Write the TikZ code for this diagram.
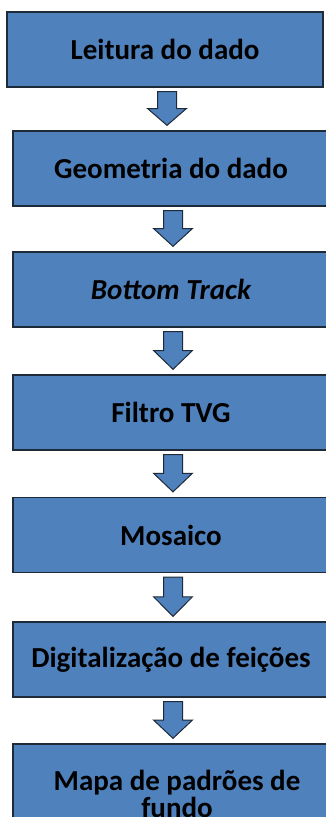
\documentclass[tikz,border=0pt]{standalone}
\usepackage{fontspec}
\setmainfont{Carlito}
\usetikzlibrary{calc}
\definecolor{boxfill}{HTML}{4F81BD}
\definecolor{boxline}{HTML}{1F2A38}
% block arrow between two stages: #1 = x of the arrow axis, #2 = upper node, #3 = lower node
\newcommand\flowstep[3]{%
  \coordinate (fs-a) at ($(#1,0 |- #2.south)+(0,4)$);
  \coordinate (fs-b) at ($(#1,0 |- #3.north)+(0,-5)$);
  \coordinate (fs-m) at ($(fs-a)!0.5!(fs-b)$);
  \draw[flow] ($(fs-a)+(-9.5,0)$) -- ($(fs-a)+(9.5,0)$) -- ($(fs-m)+(9.5,0)$)
    -- ($(fs-m)+(19.5,0)$) -- (fs-b) -- ($(fs-m)+(-19.5,0)$)
    -- ($(fs-m)+(-9.5,0)$) -- cycle;}
\begin{document}
\begin{tikzpicture}[x=1pt,y=-1pt,
  stage/.style={draw=boxline, fill=boxfill, line width=1.3pt, minimum width=316pt,
    minimum height=75pt, inner sep=0pt, text=black,
    font=\fontsize{29}{26}\selectfont\bfseries},
  stagetext/.style={inner sep=0pt, text=black, align=center,
    font=\fontsize{29}{27.5}\selectfont\bfseries},
  flow/.style={draw=boxline, fill=boxfill, line width=1pt, line join=miter}]
\useasboundingbox (0,0) rectangle (326,817);
\clip (0,0) rectangle (326,817);

\node[stage] (b1) at (165,49.5) {Leitura do dado};
\node[stage] (b2) at (171,168.5) {Geometria do dado};
\node[stage] (b3) at (171,289.5) {\itshape Bottom Track};
\node[stage] (b4) at (171,412.5) {Filtro TVG};
\node[stage] (b5) at (171,535) {Mosaico};
\node[stage] (b6) at (171,659.5) {Digitaliza\c{c}\~ao de fei\c{c}\~oes};
\node[stage, minimum width=330pt, minimum height=112pt] (b7) at (178,800) {};
\node[stagetext] (t7) at (177,794) {Mapa de padr\~oes de\\fundo};

\flowstep{167}{b1}{b2}
\flowstep{173}{b2}{b3}
\flowstep{173}{b3}{b4}
\flowstep{173}{b4}{b5}
\flowstep{173}{b5}{b6}
\flowstep{173}{b6}{b7}
\end{tikzpicture}
\end{document}
